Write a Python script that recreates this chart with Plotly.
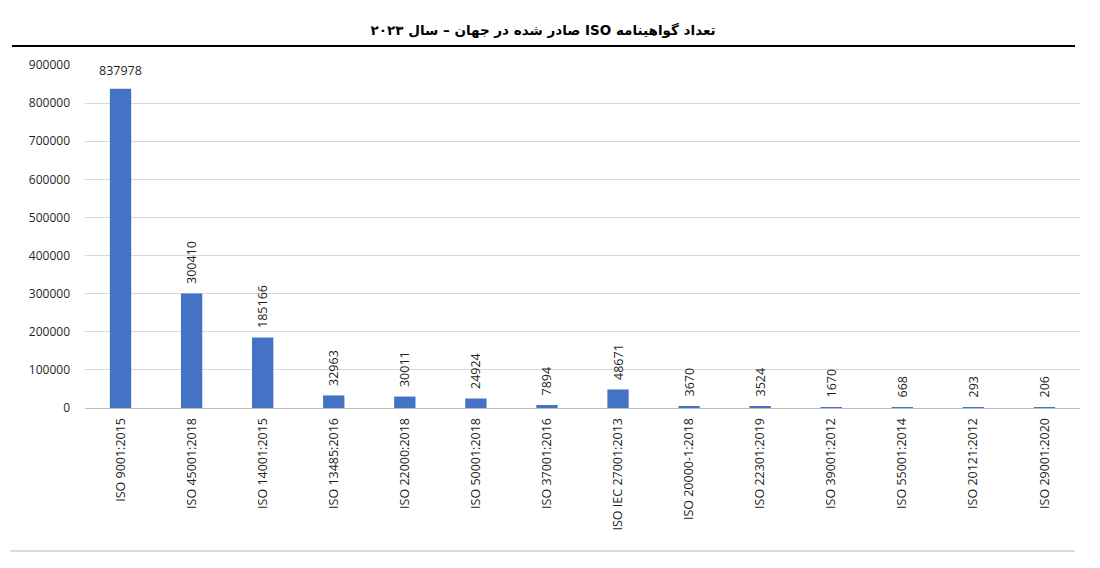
import plotly.graph_objects as go

categories = ["ISO 9001:2015", "ISO 45001:2018", "ISO 14001:2015", "ISO 13485:2016",
              "ISO 22000:2018", "ISO 50001:2018", "ISO 37001:2016", "ISO IEC 27001:2013",
              "ISO 20000-1:2018", "ISO 22301:2019", "ISO 39001:2012", "ISO 55001:2014",
              "ISO 20121:2012", "ISO 29001:2020"]
values = [837978, 300410, 185166, 32963, 30011, 24924, 7894, 48671,
          3670, 3524, 1670, 668, 293, 206]
y_ticks = [0, 100000, 200000, 300000, 400000, 500000, 600000, 700000, 800000, 900000]
title_text = "تعداد گواهینامه ISO صادر شده در جهان – سال ۲۰۲۳"

bar_color = "#4472C4"
font_family = "Open Sans, Noto Sans, DejaVu Sans, sans-serif"
label_color = "#1f1f1f"

fig = go.Figure()
# first bar: horizontal label (drawn as annotation at the bar top)
fig.add_trace(go.Bar(
    x=categories[:1], y=values[:1], width=0.3,
    marker=dict(color=bar_color, line=dict(width=0)),
    showlegend=False, cliponaxis=False,
))
# remaining bars: vertical labels
fig.add_trace(go.Bar(
    x=categories[1:], y=values[1:], width=0.3,
    marker=dict(color=bar_color, line=dict(width=0)),
    text=["\u00a0\u00a0" + str(v) for v in values[1:]], textposition="outside", textangle=-90,
    constraintext="none",
    textfont=dict(size=12.5, color=label_color, family=font_family),
    cliponaxis=False, showlegend=False,
))

fig.add_annotation(
    x=categories[0], y=values[0], text=str(values[0]), showarrow=False,
    xanchor="center", yanchor="bottom", yshift=8,
    font=dict(size=12.5, color=label_color, family=font_family),
)

fig.update_layout(
    width=1092, height=560,
    margin=dict(l=77, r=20, t=57, b=160),
    barmode="overlay",
    plot_bgcolor="white", paper_bgcolor="white",
    font=dict(family=font_family, size=12, color=label_color),
    title=dict(text="<b>\u202b" + title_text + "\u202c</b>", x=0.49, xanchor="center",
               y=1 - 22 / 560, yanchor="middle",
               font=dict(size=13.5, color="#000", family="DejaVu Sans, Noto Sans, sans-serif")),
    xaxis=dict(categoryorder="array", categoryarray=categories,
               tickangle=-90, showgrid=False, showline=True, linecolor="#bfbfbf", linewidth=1,
               ticks="", ticklabelstandoff=4, tickfont=dict(size=12.5, color=label_color)),
    yaxis=dict(range=[0, 900000], tickvals=y_ticks, ticktext=[str(t) for t in y_ticks],
               showgrid=True, gridcolor="#d9d9d9", gridwidth=1, zeroline=False,
               showline=False, ticks="", ticklabelstandoff=14,
               tickfont=dict(size=12, color=label_color)),
    shapes=[
        dict(type="line", xref="paper", yref="paper",
             x0=-73 / 995, x1=1 - 5 / 995, y0=1 + 19 / 343, y1=1 + 19 / 343,
             line=dict(color="black", width=2)),
        dict(type="line", xref="paper", yref="paper",
             x0=-75 / 995, x1=1 - 5 / 995, y0=-143 / 343, y1=-143 / 343,
             line=dict(color="#d0d0d0", width=1.5)),
    ],
)

fig.write_html("out.html")
